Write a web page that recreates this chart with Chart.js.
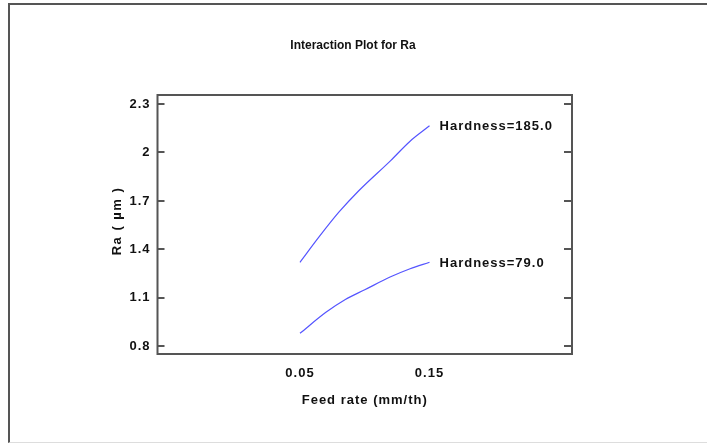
<!DOCTYPE html>
<html>
<head>
<meta charset="utf-8">
<script src="https://cdn.jsdelivr.net/npm/chart.js@4"></script>
<style>
  html, body { margin: 0; padding: 0; background: #fff; }
  #wrap { position: relative; width: 707px; height: 446px; }
  #frame { position: absolute; left: 8px; top: 3px; width: 699px; height: 440px;
           border-top: 2px solid #555; border-left: 2px solid #555; border-bottom: 1px solid #ddd; box-sizing: border-box; }
  canvas { position: absolute; left: 0; top: 0; }
</style>
</head>
<body>
<div id="wrap">
  <div id="frame"></div>
  <canvas id="grafico" width="707" height="446"></canvas>
</div>
<script>
// dados
const feedAlto = [0.05, 0.065, 0.08, 0.095, 0.12, 0.135, 0.15];
const raAlto = [1.32, 1.48, 1.63, 1.76, 1.95, 2.07, 2.165];
const feedBaixo = [0.05, 0.07, 0.085, 0.1, 0.12, 0.135, 0.15];
const raBaixo = [0.88, 1.01, 1.09, 1.15, 1.23, 1.28, 1.32];
const rotulos = ['Hardness=185.0', 'Hardness=79.0'];
const yTicks = [0.8, 1.1, 1.4, 1.7, 2, 2.3];
const xTicks = [0.05, 0.15];

const fonte = '"Liberation Sans", Arial, sans-serif';
const cinza = '#555';

const pontos = (xs, ys) => xs.map((x, i) => ({ x: x, y: ys[i] }));

// desenha moldura, ticks internos e textos
const extras = {
  id: 'extras',
  beforeDraw(chart) {
    chart.ctx.letterSpacing = '1px';
  },
  afterDraw(chart) {
    const ctx = chart.ctx;
    const a = chart.chartArea;
    const sy = chart.scales.y;
    ctx.save();
    ctx.strokeStyle = cinza;
    ctx.lineWidth = 2;
    ctx.strokeRect(a.left, a.top, a.right - a.left, a.bottom - a.top);
    yTicks.forEach(v => {
      const py = Math.round(sy.getPixelForValue(v));
      ctx.beginPath();
      ctx.moveTo(a.left, py); ctx.lineTo(a.left + 7, py);
      ctx.moveTo(a.right, py); ctx.lineTo(a.right - 8, py);
      ctx.stroke();
    });

    ctx.fillStyle = '#111';
    ctx.textAlign = 'center';
    ctx.textBaseline = 'middle';
    ctx.letterSpacing = '0px';
    ctx.font = 'bold 12px ' + fonte;
    ctx.fillText('Interaction Plot for Ra', 353, 46);

    ctx.letterSpacing = '1px';
    ctx.font = 'bold 13px ' + fonte;
    ctx.fillText('Feed rate (mm/th)', (a.left + a.right) / 2, 400);

    ctx.save();
    ctx.translate(117, 221);
    ctx.rotate(-Math.PI / 2);
    ctx.letterSpacing = '1.5px';
    ctx.fillText('Ra ( µm )', 0, 0);
    ctx.restore();

    // rótulos no fim de cada curva
    ctx.textAlign = 'left';
    chart.data.datasets.forEach((ds, i) => {
      const ult = ds.data[ds.data.length - 1];
      const px = chart.scales.x.getPixelForValue(ult.x);
      const py = sy.getPixelForValue(ult.y);
      ctx.fillText(rotulos[i], px + 10, py + 1);
    });
    ctx.restore();
  }
};

new Chart(document.getElementById('grafico'), {
  type: 'line',
  data: {
    datasets: [
      { data: pontos(feedAlto, raAlto), borderColor: 'rgb(85, 85, 255)', borderWidth: 1.2, pointRadius: 0, cubicInterpolationMode: 'monotone' },
      { data: pontos(feedBaixo, raBaixo), borderColor: 'rgb(85, 85, 255)', borderWidth: 1.2, pointRadius: 0, cubicInterpolationMode: 'monotone' }
    ]
  },
  options: {
    responsive: false,
    animation: false,
    layout: { padding: { left: 107.5, right: 135, top: 95, bottom: 62 } },
    plugins: { legend: { display: false }, tooltip: { enabled: false } },
    scales: {
      x: {
        type: 'linear',
        min: -0.06,
        max: 0.26,
        afterFit: s => { s.height = 30; },
        afterBuildTicks: s => { s.ticks = xTicks.map(v => ({ value: v })); },
        grid: { display: false, drawTicks: false },
        border: { display: false },
        ticks: { padding: 12, color: '#111', font: { family: fonte, size: 13, weight: 'bold' }, maxRotation: 0, callback: v => String(v) }
      },
      y: {
        min: 0.752,
        max: 2.356,
        afterFit: s => { s.width = 50; },
        afterBuildTicks: s => { s.ticks = yTicks.map(v => ({ value: v })); },
        grid: { display: false, drawTicks: false },
        border: { display: false },
        ticks: { padding: 7, color: '#111', font: { family: fonte, size: 13, weight: 'bold' }, callback: v => String(v) }
      }
    }
  },
  plugins: [extras]
});
</script>
</body>
</html>
